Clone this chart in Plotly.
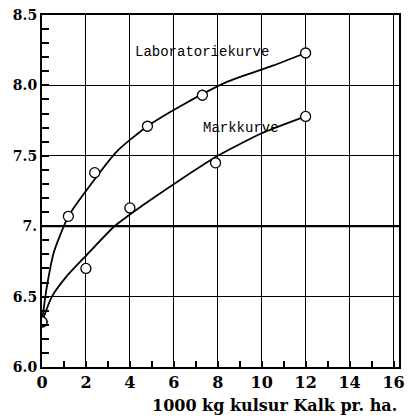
import plotly.graph_objects as go

# Measured points (open circles)
lab_x = [0, 1.2, 2.4, 4.8, 7.3, 12]
lab_y = [6.32, 7.07, 7.38, 7.71, 7.93, 8.23]
mark_x = [0, 2, 4, 7.9, 12]
mark_y = [6.32, 6.70, 7.13, 7.45, 7.78]

# Hand-drawn fitted curves
lab_curve_x = [0, 0.2, 0.55, 1.2, 2.0, 3.4, 4.8, 6.5, 8.5, 10.5, 12]
lab_curve_y = [6.32, 6.55, 6.82, 7.07, 7.25, 7.53, 7.71, 7.87, 8.03, 8.14, 8.23]
mark_curve_x = [0, 0.45, 1.1, 2.0, 3.3, 4.6, 6.2, 8.0, 10.0, 12]
mark_curve_y = [6.32, 6.5, 6.64, 6.79, 7.0, 7.15, 7.32, 7.50, 7.66, 7.78]

neutral_ph = 7.0

x_title = "1000 kg kulsur Kalk pr. ha."
lab_label = "Laboratoriekurve"
mark_label = "Markkurve"

serif = "DejaVu Serif"
mono = "Liberation Mono"

fig = go.Figure()
for cx, cy in [(lab_curve_x, lab_curve_y), (mark_curve_x, mark_curve_y)]:
    fig.add_trace(go.Scatter(x=cx, y=cy, mode="lines",
                             line=dict(color="black", width=1.8, shape="spline", smoothing=0.6),
                             hoverinfo="skip", showlegend=False))
for px, py in [(lab_x, lab_y), (mark_x, mark_y)]:
    fig.add_trace(go.Scatter(x=px, y=py, mode="markers",
                             marker=dict(symbol="circle", size=10, color="white",
                                         line=dict(color="black", width=1.3)),
                             showlegend=False))

fig.add_shape(type="line", xref="paper", x0=0, x1=1, yref="y", y0=neutral_ph, y1=neutral_ph,
              line=dict(color="black", width=2.2))

fig.add_annotation(x=7.27, y=8.24, text=lab_label, showarrow=False,
                   font=dict(family=mono, size=14, color="black"))
fig.add_annotation(x=9.07, y=7.70, text=mark_label, showarrow=False,
                   font=dict(family=mono, size=14, color="black"))
fig.add_annotation(x=1.0, xref="paper", xanchor="right", y=-0.11, yref="paper", yanchor="middle",
                   text=x_title, showarrow=False,
                   font=dict(family=serif, size=16, color="black", weight="bold"))

fig.update_layout(
    width=410, height=418,
    margin=dict(l=42, r=5, t=15, b=51),
    paper_bgcolor="white", plot_bgcolor="white",
    font=dict(family=serif, color="black"),
    xaxis=dict(range=[0, 16.25], tickmode="linear", tick0=0, dtick=2,
               tickfont=dict(family=serif, size=16, color="black", weight="bold"),
               ticklabeloverflow="allow",
               showgrid=True, gridcolor="black", gridwidth=1,
               showline=True, linecolor="black", linewidth=2, mirror=True,
               ticks="inside", ticklen=6, tickcolor="black", tickwidth=1.8, zeroline=False,
               minor=dict(dtick=1, tick0=0, ticks="inside", ticklen=6, tickcolor="black",
                          tickwidth=1.8, showgrid=False)),
    yaxis=dict(range=[6.0, 8.5], tickmode="linear", tick0=6.0, dtick=0.5, tickformat=".1f",
               labelalias={"7.0": "7."},
               tickfont=dict(family=serif, size=14, color="black", weight="bold"),
               showgrid=True, gridcolor="black", gridwidth=1,
               showline=True, linecolor="black", linewidth=2, mirror=True,
               ticks="inside", ticklen=7, tickcolor="black", tickwidth=1.8, zeroline=False,
               minor=dict(dtick=0.1, tick0=6.0, ticks="inside", ticklen=7, tickcolor="black",
                          tickwidth=1.8, showgrid=False)),
)

fig.write_html("out.html", config={"displayModeBar": False},
               post_script="document.body.style.margin='0';document.body.style.overflow='hidden';")
